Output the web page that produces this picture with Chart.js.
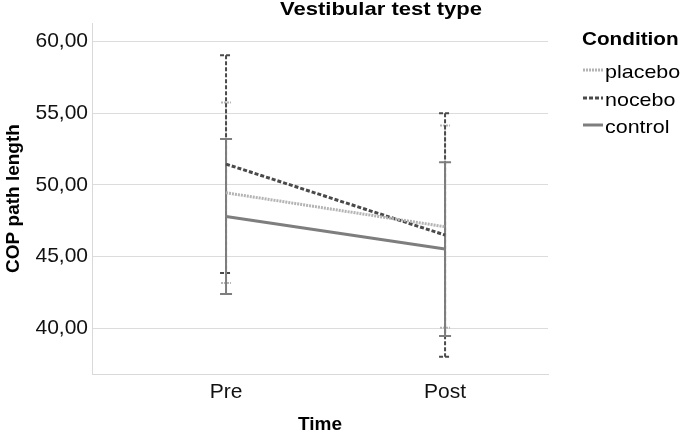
<!DOCTYPE html>
<html>
<head>
<meta charset="utf-8">
<script src="https://cdn.jsdelivr.net/npm/chart.js@4"></script>
<style>
  html, body { margin: 0; padding: 0; background: #fff; }
</style>
</head>
<body>
<canvas id="chart" width="685" height="433"></canvas>
<script>
// data
const timePoints = ['Pre', 'Post'];
const conditions = ['placebo', 'nocebo', 'control'];
const placeboMean = [49.45, 47.08];
const placeboErr = [6.3, 7.06];
const noceboMean = [51.45, 46.5];
const noceboErr = [7.6, 8.5];
const controlMean = [47.8, 45.52];
const controlErr = [5.41, 6.06];
const yTicks = [40, 45, 50, 55, 60];

const FONT = "'Liberation Sans', Arial, sans-serif";
const styles = {
  placebo: { color: '#b4b4b4', dash: [2, 1] },
  nocebo: { color: '#4a4a4a', dash: [4, 2] },
  control: { color: '#7e7e7e', dash: [] },
};
const means = { placebo: placeboMean, nocebo: noceboMean, control: controlMean };
const errs = { placebo: placeboErr, nocebo: noceboErr, control: controlErr };

function toPoints(arr) {
  return arr.map((v, i) => ({ x: i + 1, y: v }));
}

// text in the reference is a bit wider than it is tall
function wideText(ctx, text, x, y, sx) {
  ctx.save();
  ctx.translate(x, y);
  ctx.scale(sx, 1);
  ctx.fillText(text, 0, 0);
  ctx.restore();
}

const errorBars = {
  id: 'errorBars',
  beforeDatasetsDraw(chart) {
    const { ctx, scales } = chart;
    ['placebo', 'nocebo', 'control'].forEach((name) => {
      const st = styles[name];
      means[name].forEach((m, i) => {
        const x = scales.x.getPixelForValue(i + 1);
        const yTop = scales.y.getPixelForValue(m + errs[name][i]);
        const yBot = scales.y.getPixelForValue(m - errs[name][i]);
        const capW = name == 'placebo' ? 5 : 6;
        ctx.save();
        ctx.strokeStyle = st.color;
        ctx.lineWidth = 2;
        ctx.setLineDash(st.dash);
        ctx.beginPath();
        ctx.moveTo(x, yTop);
        ctx.lineTo(x, yBot);
        ctx.moveTo(x - capW, yTop);
        ctx.lineTo(x + capW, yTop);
        ctx.moveTo(x - capW, yBot);
        ctx.lineTo(x + capW, yBot);
        ctx.stroke();
        ctx.restore();
      });
    });
  },
};

const titleAndLegend = {
  id: 'titleAndLegend',
  afterDraw(chart) {
    const { ctx } = chart;
    ctx.save();
    ctx.fillStyle = '#000';
    ctx.textBaseline = 'middle';
    ctx.textAlign = 'center';
    ctx.font = `bold 19px ${FONT}`;
    wideText(ctx, 'Vestibular test type', 381, 10, 1.16);

    ctx.textAlign = 'left';
    wideText(ctx, 'Condition', 582, 40, 1.09);
    ctx.font = `19px ${FONT}`;
    const rows = [70, 98, 125];
    conditions.forEach((name, i) => {
      const st = styles[name];
      ctx.strokeStyle = st.color;
      ctx.lineWidth = 3;
      ctx.setLineDash(st.dash);
      ctx.beginPath();
      ctx.moveTo(583, rows[i]);
      ctx.lineTo(603, rows[i]);
      ctx.stroke();
      ctx.setLineDash([]);
      wideText(ctx, name, 605, rows[i] + 3, 1.13);
    });
    ctx.restore();
  },
};

new Chart(document.getElementById('chart'), {
  type: 'line',
  data: {
    datasets: conditions.map((name) => ({
      label: name,
      data: toPoints(means[name]),
      borderColor: styles[name].color,
      borderDash: styles[name].dash,
      borderWidth: 3,
      pointRadius: 0,
      fill: false,
    })),
  },
  options: {
    responsive: false,
    animation: false,
    layout: { padding: { top: 23, right: 137, left: 0, bottom: 0 } },
    plugins: {
      legend: { display: false },
      title: { display: false },
      tooltip: { enabled: false },
    },
    scales: {
      x: {
        type: 'linear',
        min: 0.388,
        max: 2.47,
        afterBuildTicks: (scale) => {
          scale.ticks = timePoints.map((t, i) => ({ value: i + 1 }));
        },
        afterFit: (scale) => {
          scale.height = 59;
        },
        ticks: {
          callback: (v) => timePoints[v - 1],
          color: '#111',
          font: { family: FONT, size: 21 },
          padding: 6,
          maxRotation: 0,
        },
        grid: { display: false, drawTicks: false },
        border: { color: '#d9d9d9', width: 1 },
        title: {
          display: true,
          text: 'Time',
          color: '#000',
          font: { family: FONT, size: 19, weight: 'bold' },
          padding: { top: 4, bottom: -3 },
        },
      },
      y: {
        type: 'linear',
        min: 36.8,
        max: 61.3,
        afterBuildTicks: (scale) => {
          scale.ticks = yTicks.map((v) => ({ value: v }));
        },
        afterFit: (scale) => {
          scale.width = 92;
        },
        ticks: {
          callback: (v) => v.toFixed(2).replace('.', ','),
          color: '#111',
          font: { family: FONT, size: 21 },
          padding: 4,
        },
        grid: { color: '#dcdcdc', drawTicks: false, lineWidth: 1 },
        border: { color: '#d9d9d9', width: 1 },
        title: {
          display: true,
          text: 'COP path length',
          color: '#000',
          font: { family: FONT, size: 19, weight: 'bold' },
          padding: { top: 2, bottom: 0 },
        },
      },
    },
  },
  plugins: [errorBars, titleAndLegend],
});
</script>
</body>
</html>
